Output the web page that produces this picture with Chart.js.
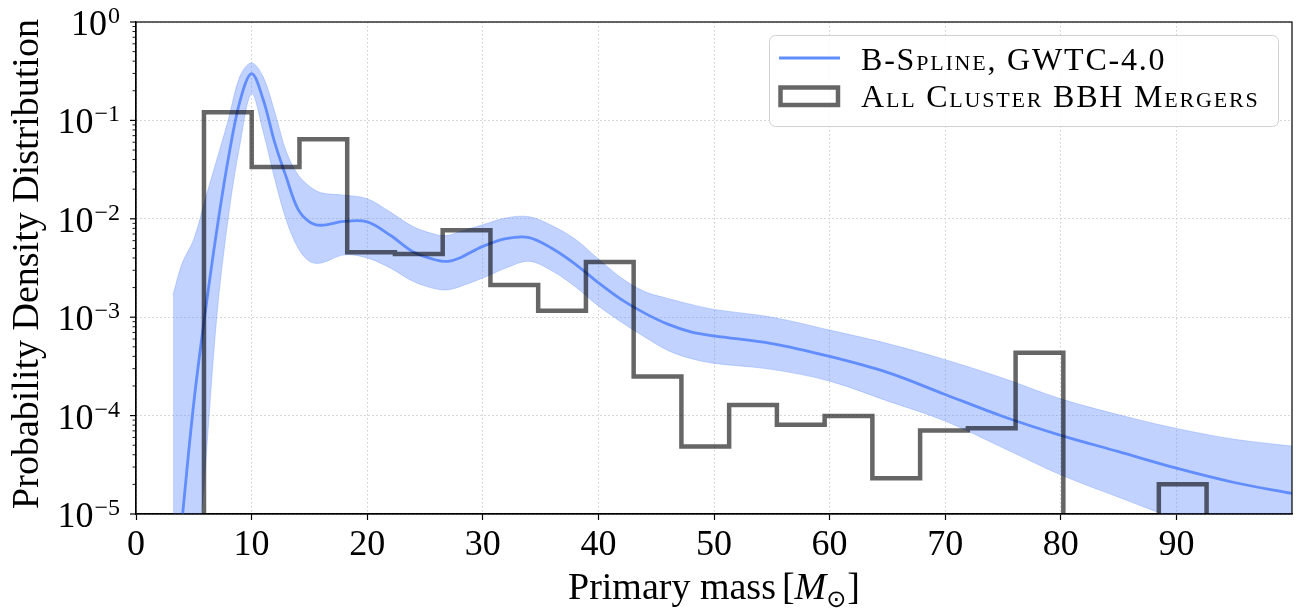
<!DOCTYPE html>
<html>
<head>
<meta charset="utf-8">
<title>Primary mass distribution</title>
<script src="https://cdn.jsdelivr.net/npm/chart.js@4.4.1/dist/chart.umd.min.js"></script>
<style>
  html, body { margin: 0; padding: 0; background: #fff; }
  #wrap { width: 1304px; height: 611px; }
</style>
</head>
<body>
<div id="wrap"><canvas id="chart"></canvas></div>
<script>
/* Primary-mass PDF: B-spline median + 90% band, with cluster BBH histogram */

// B-spline model, sampled along primary mass (Msun)
var massGrid = [3.2, 4, 5, 6, 7, 8, 9, 10, 11, 12, 13, 14, 15, 16,
  18, 20, 22, 24, 26, 27, 28, 30,
  32, 34, 36, 38, 40, 42, 44, 46, 48, 50,
  55, 60, 65, 70, 75, 80, 85, 90, 95, 100];

var splineMedian = [1.0e-6, 9.1e-6, 1.35e-4, 1.15e-3, 7.8e-3, 4.19e-2, 0.158, 0.299, 0.163, 5.94e-2, 2.64e-2, 1.26e-2, 9.3e-3, 8.6e-3,
  9.4e-3, 9.3e-3, 6.8e-3, 4.6e-3, 3.8e-3, 3.7e-3, 4.0e-3, 5.25e-3,
  6.3e-3, 6.45e-3, 5.0e-3, 3.47e-3, 2.24e-3, 1.51e-3, 1.1e-3, 8.5e-4, 7.1e-4, 6.45e-4,
  5.4e-4, 4.0e-4, 2.75e-4, 1.64e-4, 9.8e-5, 6.3e-5, 4.3e-5, 2.92e-5, 2.09e-5, 1.62e-5];

var splineUpper = [1.68e-3, 3.55e-3, 6.2e-3, 1.6e-2, 4.03e-2, 0.103, 0.282, 0.384, 0.277, 0.122, 4.82e-2, 2.82e-2, 2.14e-2, 1.84e-2,
  1.74e-2, 1.6e-2, 1.17e-2, 8.3e-3, 6.9e-3, 6.8e-3, 7.4e-3, 8.7e-3,
  1.02e-2, 1.05e-2, 8.5e-3, 6.2e-3, 3.9e-3, 2.5e-3, 1.82e-3, 1.55e-3, 1.35e-3, 1.2e-3,
  1.0e-3, 7.4e-4, 5.4e-4, 3.7e-4, 2.4e-4, 1.48e-4, 1.02e-4, 7.4e-5, 5.75e-5, 4.9e-5];

var splineLower = [3e-9, 3e-8, 1e-6, 3.0e-5, 1.05e-3, 1.07e-2, 5.75e-2, 0.187, 7.7e-2, 2.54e-2, 9.7e-3, 5.1e-3, 3.7e-3, 3.55e-3,
  4.3e-3, 4.0e-3, 3.16e-3, 2.3e-3, 1.93e-3, 1.9e-3, 2.04e-3, 2.5e-3,
  3.16e-3, 3.7e-3, 2.95e-3, 2.04e-3, 1.3e-3, 8.9e-4, 6.3e-4, 4.6e-4, 3.8e-4, 3.4e-4,
  2.95e-4, 2.24e-4, 1.41e-4, 8.8e-5, 4.7e-5, 2.5e-5, 1.48e-5, 8.9e-6, 5.6e-6, 3.8e-6];

// Cluster BBH merger histogram (density per bin)
var binEdges = [5.88, 10.01, 14.14, 18.27, 22.40, 26.53, 30.66, 34.79, 38.92, 43.05, 47.18,
  51.31, 55.44, 59.57, 63.70, 67.83, 71.96, 76.09, 80.22, 84.35, 88.48, 92.61];
var binDensity = [0.121, 0.0337, 0.0644, 4.56e-3, 4.4e-3, 7.67e-3, 2.12e-3, 1.16e-3, 3.63e-3, 2.49e-4,
  4.84e-5, 1.28e-4, 8.05e-5, 9.9e-5, 2.31e-5, 7.05e-5, 7.44e-5, 4.36e-4, 0, 0, 2.01e-5];

// Axis ticks
var yTickExponents = [0, -1, -2, -3, -4, -5];
var yMinorMultipliers = [2, 3, 4, 5, 6, 7, 8, 9];

var legendLabels = ["B-Spline, GWTC-4.0", "All Cluster BBH Mergers"];

var BLUE = "#628dff";
var BAND = "rgba(100,143,255,0.4)";
var HIST = "rgba(0,0,0,0.6)";
var FLOOR = 1e-8; // empty bins drop below the axis
var SERIF = '"Liberation Serif", "Times New Roman", serif';

function pts(xs, ys) {
  return xs.map(function (x, i) { return { x: x, y: ys[i] }; });
}

var histPoints = [{ x: binEdges[0], y: FLOOR }];
binDensity.forEach(function (d, i) {
  histPoints.push({ x: binEdges[i], y: d > 0 ? d : FLOOR });
});
histPoints.push({ x: binEdges[binEdges.length - 1], y: FLOOR });

function isDecade(v) {
  var l = Math.log10(v);
  return Math.abs(l - Math.round(l)) < 1e-9;
}

var decorPlugin = {
  id: "decor",
  afterDraw: function (chart) {
    var ctx = chart.ctx, area = chart.chartArea;
    var ys = chart.scales.y;
    ctx.save();

    // frame
    ctx.strokeStyle = "#000";
    ctx.lineWidth = 1.2;
    ctx.strokeRect(area.left, area.top, area.right - area.left, area.bottom - area.top);

    // y ticks (major + minor)
    yTickExponents.forEach(function (e) {
      var y = ys.getPixelForValue(Math.pow(10, e));
      ctx.lineWidth = 1.2;
      ctx.beginPath();
      ctx.moveTo(area.left - 6, y);
      ctx.lineTo(area.left, y);
      ctx.stroke();
      if (e < 0) {
        yMinorMultipliers.forEach(function (m) {
          var ym = ys.getPixelForValue(m * Math.pow(10, e));
          ctx.lineWidth = 0.9;
          ctx.beginPath();
          ctx.moveTo(area.left - 3.5, ym);
          ctx.lineTo(area.left, ym);
          ctx.stroke();
        });
      }
    });

    // y tick labels 10^e
    ctx.fillStyle = "#000";
    ctx.textAlign = "right";
    ctx.textBaseline = "alphabetic";
    yTickExponents.forEach(function (e) {
      var y = ys.getPixelForValue(Math.pow(10, e));
      var expText = e === 0 ? "0" : "\u2212" + (-e);
      ctx.font = "24px " + SERIF;
      var ew = ctx.measureText(expText).width;
      ctx.fillText(expText, 120, y + 1);
      ctx.font = "36px " + SERIF;
      ctx.fillText("10", 120 - ew - 1, y + 13);
    });

    // y title
    ctx.save();
    ctx.translate(38, 264);
    ctx.rotate(-Math.PI / 2);
    ctx.textAlign = "center";
    ctx.font = "38px " + SERIF;
    ctx.fillText("Probability Density Distribution", 0, 0);
    ctx.restore();

    // x title: Primary mass [M_sun]
    ctx.textAlign = "left";
    var parts = [
      { t: "Primary mass", f: "38px " + SERIF, dy: 0, gap: 6 },
      { t: "[", f: "38px " + SERIF, dy: 0, gap: 0 },
      { t: "M", f: "italic 38px " + SERIF, dy: 0, gap: 0 },
      { t: "\u2299", f: '24px "DejaVu Sans", sans-serif', dy: 8, gap: 1 },
      { t: "]", f: "38px " + SERIF, dy: 0, gap: 0 }
    ];
    var total = 0;
    parts.forEach(function (p) {
      ctx.font = p.f;
      p.w = ctx.measureText(p.t).width;
      total += p.w + p.gap;
    });
    var cx = (area.left + area.right) / 2 - total / 2;
    parts.forEach(function (p) {
      ctx.font = p.f;
      ctx.fillText(p.t, cx, 599 + p.dy);
      cx += p.w + p.gap;
    });

    // legend
    ctx.beginPath();
    ctx.roundRect(769.5, 35.5, 509, 91, 6);
    ctx.fillStyle = "rgba(255,255,255,0.85)";
    ctx.fill();
    ctx.strokeStyle = "#d0d0d0";
    ctx.lineWidth = 1;
    ctx.stroke();

    ctx.strokeStyle = BLUE;
    ctx.lineWidth = 2.8;
    ctx.beginPath();
    ctx.moveTo(779, 58);
    ctx.lineTo(840, 58);
    ctx.stroke();

    ctx.strokeStyle = HIST;
    ctx.lineWidth = 4.5;
    ctx.strokeRect(780.5, 87.5, 57.5, 17.5);

    ctx.fillStyle = "#000";
    ctx.font = "small-caps 32px " + SERIF;
    if ("letterSpacing" in ctx) ctx.letterSpacing = "1.8px";
    ctx.fillText(legendLabels[0], 861, 70);
    ctx.fillText(legendLabels[1], 861, 106.5);

    ctx.restore();
  }
};

new Chart(document.getElementById("chart"), {
  type: "line",
  data: {
    datasets: [
      {
        label: legendLabels[1],
        data: histPoints,
        stepped: true,
        borderColor: HIST,
        borderWidth: 4.5,
        fill: false,
        order: 0
      },
      {
        label: legendLabels[0],
        data: pts(massGrid, splineMedian),
        borderColor: BLUE,
        borderWidth: 2.8,
        tension: 0.35,
        fill: false,
        order: 1
      },
      {
        label: "upper",
        data: pts(massGrid, splineUpper),
        borderColor: "rgba(100,143,255,0.35)",
        borderWidth: 1,
        backgroundColor: BAND,
        tension: 0.35,
        fill: "+1",
        order: 2
      },
      {
        label: "lower",
        data: pts(massGrid, splineLower),
        borderColor: "rgba(100,143,255,0.35)",
        borderWidth: 1,
        tension: 0.35,
        fill: false,
        order: 3
      }
    ]
  },
  options: {
    responsive: true,
    maintainAspectRatio: false,
    animation: false,
    events: [],
    layout: { padding: { top: 22, right: 12, left: 0, bottom: 0 } },
    elements: { point: { radius: 0 } },
    plugins: { legend: { display: false }, tooltip: { enabled: false } },
    scales: {
      x: {
        type: "linear",
        min: 0,
        max: 100,
        ticks: {
          stepSize: 10,
          color: "#000",
          padding: 4,
          font: { family: SERIF, size: 36 },
          maxRotation: 0,
          callback: function (v) { return v >= 100 ? null : String(v); }
        },
        grid: { color: "#cccccc", lineWidth: 1, tickColor: "#000", tickLength: 6, tickWidth: 1.2 },
        border: { color: "#000", width: 1.2, dash: [1.5, 2.5] },
        afterFit: function (s) { s.height = 97; }
      },
      y: {
        type: "logarithmic",
        min: 1e-5,
        max: 1,
        ticks: { display: false },
        grid: {
          drawTicks: false,
          lineWidth: 1,
          color: function (c) { return c.tick && isDecade(c.tick.value) ? "#cccccc" : "rgba(0,0,0,0)"; }
        },
        border: { color: "#000", width: 1.2, dash: [1.5, 2.5] },
        afterFit: function (s) { s.width = 136; }
      }
    }
  },
  plugins: [decorPlugin]
});
</script>
</body>
</html>
